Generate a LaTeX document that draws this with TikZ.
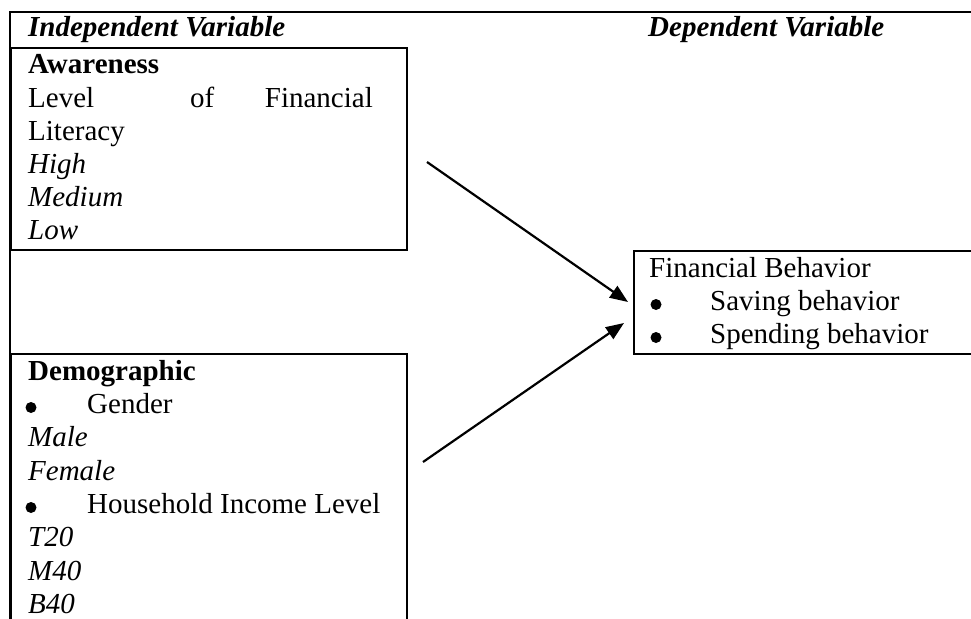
\documentclass[tikz,border=0pt]{standalone}
\usepackage{fontspec}
\setmainfont{Liberation Serif}
\usetikzlibrary{arrows.meta}
\begin{document}
\begin{tikzpicture}[x=1pt,y=-1pt,
  txt/.style={anchor=base west, inner sep=0pt, font=\fontsize{29}{33}\selectfont},
  itx/.style={txt, font=\fontsize{29}{33}\selectfont\itshape},
  bdx/.style={txt, font=\fontsize{29}{33}\selectfont\bfseries},
  hdx/.style={txt, font=\fontsize{29}{33}\selectfont\bfseries\itshape},
  dot/.style={circle, fill=black, inner sep=0pt, minimum size=11pt},
  boxframe/.style={draw, line width=2.2pt, anchor=north west, inner sep=0pt},
  link/.style={line width=2.2pt, -{Triangle[length=18pt,width=14pt]}}]
\useasboundingbox (0,0) rectangle (971,618);
\clip (0,0) rectangle (971,618);
% outer frame
\coordinate (fbl) at (10,640);
\coordinate (ftl) at (10,12);
\coordinate (ftr) at (990,12);
\draw[line width=2.2pt] (fbl) -- (ftl) -- (ftr);
% headings
\node[hdx] (indep) at (28,37) {Independent Variable};
\node[hdx] (dep) at (648,37) {Dependent Variable};
% boxes
\node[boxframe, minimum width=396pt, minimum height=202pt] (aw) at (10,47) {};
\node[boxframe, minimum width=396pt, minimum height=300pt] (dem) at (10,353) {};
\node[boxframe, minimum width=400pt, minimum height=103pt] (fb) at (633,250) {};
% awareness text
\node[bdx] (awt) at (28,74) {Awareness};
\node[txt] (lv1) at (28,107) {Level};
\node[txt] (lv2) at (190,107) {of};
\node[txt, anchor=base east] (lv3) at (373,107) {Financial};
\node[txt] (lit) at (28,140) {Literacy};
\node[itx] (hi) at (28,173) {High};
\node[itx] (me) at (28,206) {Medium};
\node[itx] (lo) at (28,239) {Low};
% demographic text
\node[bdx] (demt) at (28,380) {Demographic};
\node[dot] (b1) at (31,407.5) {};
\node[txt] (gen) at (87,413) {Gender};
\node[itx] (ma) at (28,446) {Male};
\node[itx] (fe) at (28,480) {Female};
\node[dot] (b2) at (31,507.5) {};
\node[txt] (hil) at (87,513) {Household Income Level};
\node[itx] (t20) at (28,546) {T20};
\node[itx] (m40) at (28,580) {M40};
\node[itx] (b40) at (28,613) {B40};
% financial behavior text
\node[txt] (fbt) at (649,277) {Financial Behavior};
\node[dot] (b3) at (656,304.5) {};
\node[txt] (sav) at (710,310) {Saving behavior};
\node[dot] (b4) at (656,337.5) {};
\node[txt] (spe) at (710,343) {Spending behavior};
% connectors
\coordinate (a1s) at (427,162);
\coordinate (a1e) at (628,302);
\coordinate (a2s) at (423,462);
\coordinate (a2e) at (624,323);
\draw[link] (a1s) -- (a1e);
\draw[link] (a2s) -- (a2e);
\end{tikzpicture}
\end{document}
